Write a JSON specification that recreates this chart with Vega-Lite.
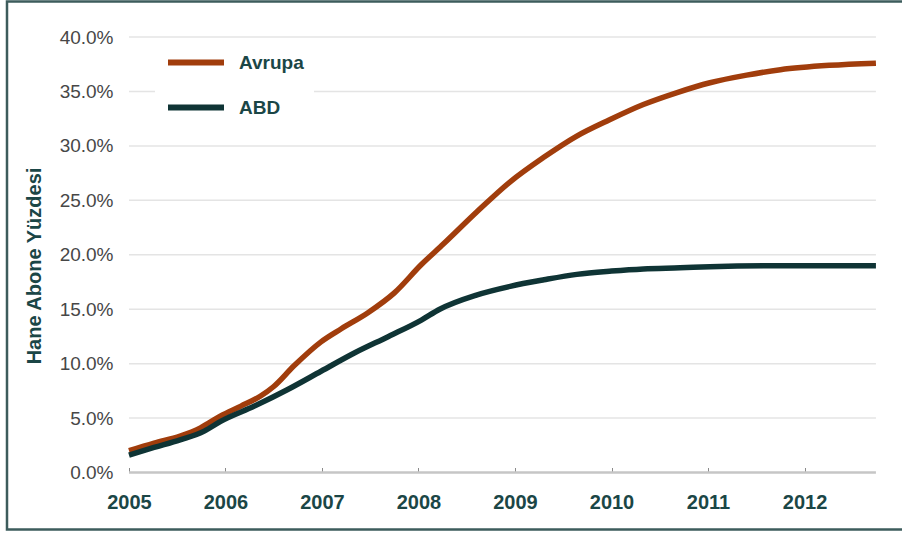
{
  "$schema": "https://vega.github.io/schema/vega-lite/v6.json",
  "width": 900,
  "height": 528,
  "autosize": {"type": "none"},
  "padding": {"left": 7, "top": 1.5, "right": 0, "bottom": 3},
  "background": "white",
  "config": {
    "view": {"stroke": "#3d5c5c", "strokeWidth": 2.5},
    "font": "Liberation Sans"
  },
  "datasets": {
    "series": [
      {"series": "Avrupa", "year": 2005.0, "pct": 2.0},
      {"series": "Avrupa", "year": 2005.26, "pct": 2.7},
      {"series": "Avrupa", "year": 2005.53, "pct": 3.35},
      {"series": "Avrupa", "year": 2005.74, "pct": 4.1},
      {"series": "Avrupa", "year": 2005.95, "pct": 5.2},
      {"series": "Avrupa", "year": 2006.16, "pct": 6.1},
      {"series": "Avrupa", "year": 2006.36, "pct": 7.0},
      {"series": "Avrupa", "year": 2006.5, "pct": 7.9},
      {"series": "Avrupa", "year": 2006.71, "pct": 9.8},
      {"series": "Avrupa", "year": 2006.99, "pct": 12.0},
      {"series": "Avrupa", "year": 2007.2, "pct": 13.2},
      {"series": "Avrupa", "year": 2007.48, "pct": 14.7},
      {"series": "Avrupa", "year": 2007.75, "pct": 16.5},
      {"series": "Avrupa", "year": 2008.03, "pct": 19.1},
      {"series": "Avrupa", "year": 2008.26, "pct": 21.0},
      {"series": "Avrupa", "year": 2008.6, "pct": 23.9},
      {"series": "Avrupa", "year": 2008.95, "pct": 26.7},
      {"series": "Avrupa", "year": 2009.29, "pct": 28.9},
      {"series": "Avrupa", "year": 2009.64, "pct": 30.9},
      {"series": "Avrupa", "year": 2009.98, "pct": 32.4},
      {"series": "Avrupa", "year": 2010.33, "pct": 33.8},
      {"series": "Avrupa", "year": 2010.68, "pct": 34.9},
      {"series": "Avrupa", "year": 2011.02, "pct": 35.8},
      {"series": "Avrupa", "year": 2011.4, "pct": 36.5},
      {"series": "Avrupa", "year": 2011.75, "pct": 37.0},
      {"series": "Avrupa", "year": 2012.26, "pct": 37.4},
      {"series": "Avrupa", "year": 2012.74, "pct": 37.6},
      {"series": "ABD", "year": 2005.0, "pct": 1.6},
      {"series": "ABD", "year": 2005.26, "pct": 2.3},
      {"series": "ABD", "year": 2005.53, "pct": 3.0},
      {"series": "ABD", "year": 2005.78, "pct": 3.8},
      {"series": "ABD", "year": 2005.95, "pct": 4.7},
      {"series": "ABD", "year": 2006.3, "pct": 6.1},
      {"series": "ABD", "year": 2006.64, "pct": 7.6},
      {"series": "ABD", "year": 2006.99, "pct": 9.3},
      {"series": "ABD", "year": 2007.34, "pct": 11.0},
      {"series": "ABD", "year": 2007.69, "pct": 12.5},
      {"series": "ABD", "year": 2008.03, "pct": 14.0},
      {"series": "ABD", "year": 2008.22, "pct": 15.0},
      {"series": "ABD", "year": 2008.6, "pct": 16.3},
      {"series": "ABD", "year": 2008.95, "pct": 17.1},
      {"series": "ABD", "year": 2009.3, "pct": 17.7},
      {"series": "ABD", "year": 2009.64, "pct": 18.2},
      {"series": "ABD", "year": 2010.0, "pct": 18.5},
      {"series": "ABD", "year": 2010.33, "pct": 18.7},
      {"series": "ABD", "year": 2010.71, "pct": 18.8},
      {"series": "ABD", "year": 2011.02, "pct": 18.9},
      {"series": "ABD", "year": 2011.75, "pct": 19.0},
      {"series": "ABD", "year": 2012.74, "pct": 19.0}
    ],
    "grid": [
      {"g": 5, "x0": 2005, "x1": 2012.74},
      {"g": 10, "x0": 2005, "x1": 2012.74},
      {"g": 15, "x0": 2005, "x1": 2012.74},
      {"g": 20, "x0": 2005, "x1": 2012.74},
      {"g": 25, "x0": 2005, "x1": 2012.74},
      {"g": 30, "x0": 2005, "x1": 2012.74},
      {"g": 35, "x0": 2005, "x1": 2012.74},
      {"g": 40, "x0": 2005, "x1": 2012.74}
    ],
    "base": [
      {"g": 0, "x0": 2005, "x1": 2012.74}
    ]
  },
  "resolve": {"scale": {"x": "shared", "y": "shared"}},
  "layer": [
    {
      "data": {"name": "grid"},
      "mark": {"type": "rule", "color": "#e4e4e4", "strokeWidth": 1.5},
      "encoding": {
        "y": {"field": "g", "type": "quantitative",
              "scale": {"domain": [-5.235, 43.261], "nice": false, "zero": false},
              "axis": {
                "orient": "left", "offset": -106, "values": [0, 5, 10, 15, 20, 25, 30, 35, 40],
                "labelExpr": "format(datum.value, '.1f') + '%'",
                "ticks": false, "tickSize": 0, "domain": false, "grid": false,
                "labelPadding": 0, "labelFont": "Liberation Sans", "labelFontSize": 19,
                "labelColor": "#474747",
                "title": "Hane Abone Yüzdesi", "titleFont": "Liberation Sans",
                "titleFontSize": 20, "titleFontWeight": "bold", "titleColor": "#1b4646",
                "titlePadding": 15
              }},
        "x": {"field": "x0", "type": "quantitative",
              "scale": {"domain": [2003.736, 2013.062], "nice": false, "zero": false},
              "axis": {
                "orient": "bottom", "offset": -57,
                "values": [2005, 2006, 2007, 2008, 2009, 2010, 2011, 2012],
                "format": "d", "domain": false, "grid": false,
                "ticks": true, "tickSize": -5, "tickColor": "#8a8a8a", "tickWidth": 1,
                "labelPadding": 25, "labelFont": "Liberation Sans", "labelFontSize": 20,
                "labelFontWeight": "bold", "labelColor": "#1b4646", "title": null
              }},
        "x2": {"field": "x1"}
      }
    },
    {
      "data": {"name": "base"},
      "mark": {"type": "rule", "color": "#c6c6c6", "strokeWidth": 2.5},
      "encoding": {
        "y": {"field": "g", "type": "quantitative"},
        "x": {"field": "x0", "type": "quantitative"},
        "x2": {"field": "x1"}
      }
    },
    {
      "data": {"name": "series"},
      "mark": {"type": "line", "strokeWidth": 5.5, "interpolate": "monotone", "strokeCap": "butt"},
      "encoding": {
        "x": {"field": "year", "type": "quantitative"},
        "y": {"field": "pct", "type": "quantitative"},
        "color": {
          "field": "series", "type": "nominal",
          "scale": {"domain": ["Avrupa", "ABD"], "range": ["#a13d0c", "#0f3435"]},
          "legend": {
            "orient": "none", "legendX": 148, "legendY": 39, "title": null,
            "symbolType": "stroke", "symbolSize": 3136, "symbolStrokeWidth": 6,
            "clipHeight": 24, "rowPadding": 21, "padding": 10,
            "fillColor": "white", "labelOffset": 12,
            "labelFont": "Liberation Sans", "labelFontSize": 19, "labelFontWeight": "bold",
            "labelColor": "#1b4646"
          }
        }
      }
    }
  ]
}
